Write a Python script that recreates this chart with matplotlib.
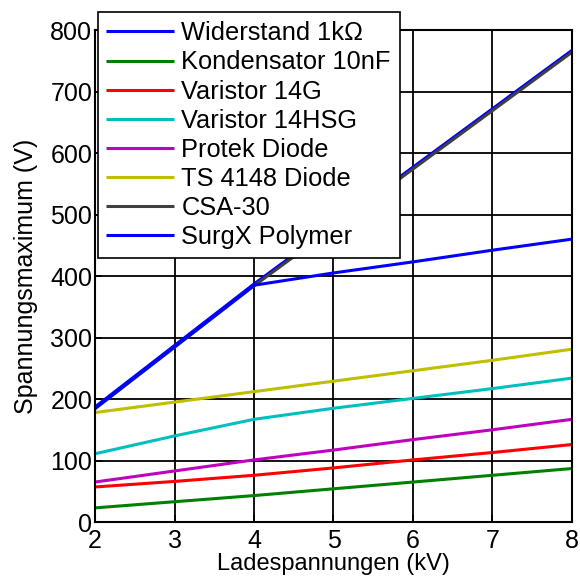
import numpy as np
import matplotlib.pyplot as plt

plt.rcParams['font.family'] = ['Liberation Sans', 'DejaVu Sans']

kv = [2, 3, 4, 5, 6, 7, 8]

widerstand = [187, 287, 387, 482, 577, 672, 767]
kondensator = [23, 33, 43, 54, 65, 76, 87]
varistor_14g = [57, 66, 76, 88, 101, 113, 126]
varistor_14hsg = [111, 140, 167, 185, 201, 217, 234]
protek = [65, 83, 101, 117, 134, 150, 167]
ts4148 = [178, 195, 212, 229, 246, 263, 281]
csa30 = [184, 284, 384, 479, 574, 669, 764]
surgx = [185, 285, 385, 405, 423, 442, 460]

series = [
    ('Widerstand 1k\u03a9', widerstand, (0, 0, 1)),
    ('Kondensator 10nF', kondensator, (0, 0.5, 0)),
    ('Varistor 14G', varistor_14g, (1, 0, 0)),
    ('Varistor 14HSG', varistor_14hsg, (0, 0.75, 0.75)),
    ('Protek Diode', protek, (0.75, 0, 0.75)),
    ('TS 4148 Diode', ts4148, (0.75, 0.75, 0)),
    ('CSA-30', csa30, (0.25, 0.25, 0.25)),
    ('SurgX Polymer', surgx, (0, 0, 1)),
]

fig = plt.figure(figsize=(5.8, 5.83), dpi=100)
ax = fig.add_axes([0.1638, 0.1046, 0.8224, 0.8439])

for name, vals, col in series:
    ax.plot(kv, vals, color=col, lw=2.2, label=name, solid_capstyle='butt')

ax.set_xlim(2, 8)
ax.set_ylim(0, 800)
ax.set_xticks(range(2, 9))
ax.set_yticks(range(0, 801, 100))
ax.grid(True, color='black', lw=1.3, ls='-')
for s in ax.spines.values():
    s.set_linewidth(1.5)
ax.tick_params(direction='in', labelsize=18, length=5, width=1.2)
ax.tick_params(axis='x', pad=5)
ax.tick_params(axis='y', pad=2)

ax.set_xlabel('Ladespannungen (kV)', fontsize=17, labelpad=0)
ax.set_ylabel('Spannungsmaximum (V)', fontsize=18, labelpad=9)

leg = ax.legend(loc='upper left', bbox_to_anchor=(97.5 / 580, 1 - 12.5 / 583),
                bbox_transform=fig.transFigure, borderaxespad=0,
                fontsize=18.3, fancybox=False, framealpha=1, edgecolor='black',
                handlelength=2.65, handletextpad=0.3, labelspacing=0.2,
                borderpad=0.35)
leg.get_frame().set_linewidth(1.2)

fig.savefig('out.png', dpi=100)
